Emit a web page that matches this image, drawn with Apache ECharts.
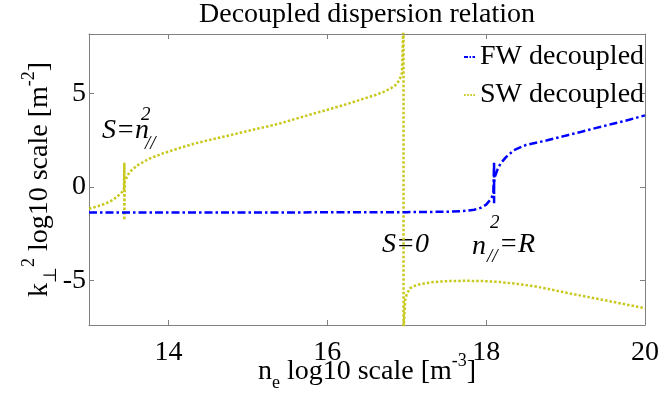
<!DOCTYPE html>
<html><head><meta charset="utf-8">
<script src="https://cdn.jsdelivr.net/npm/echarts@6/dist/echarts.min.js"></script>
<style>html,body{margin:0;padding:0;background:#fff}#c{width:659px;height:396px}</style>
</head><body><div id="c"></div>
<script>
// FW decoupled (blue dash-dot)
const fwX = [13.0, 13.5, 14.0, 15.0, 16.0, 17.0, 17.5, 17.71, 17.85, 17.93, 18.0, 18.05, 18.09, 18.1, 18.1, 18.1, 18.11, 18.14, 18.18, 18.25, 18.35, 18.5, 18.77, 19.0, 19.19, 19.4, 19.61, 19.8, 20.0];
const fwY = [-1.37, -1.37, -1.37, -1.37, -1.36, -1.35, -1.33, -1.29, -1.22, -1.12, -0.95, -0.7, -0.4, 1.34, -0.87, 0.2, 0.54, 0.9, 1.25, 1.6, 1.97, 2.25, 2.5, 2.75, 2.95, 3.18, 3.4, 3.6, 3.84];
// SW decoupled (yellow dotted)
const swX = [13.0, 13.1, 13.21, 13.3, 13.36, 13.41, 13.44, 13.445, 13.445, 13.45, 13.51, 13.61, 13.75, 13.93, 14.15, 14.35, 14.6, 14.8, 15.0, 15.2, 15.4, 15.6, 15.8, 16.03, 16.25, 16.45, 16.6, 16.71, 16.8, 16.87, 16.91, 16.94, 16.96, 16.96, 16.965, 16.98, 17.0, 17.04, 17.1, 17.17, 17.33, 17.5, 17.76, 18.0, 18.18, 18.4, 18.6, 18.8, 19.02, 19.2, 19.44, 19.7, 20.0];
const swY = [-1.16, -1.05, -0.89, -0.7, -0.5, -0.3, -0.15, 1.3, -1.78, 0.3, 0.8, 1.16, 1.5, 1.8, 2.1, 2.35, 2.6, 2.8, 3.0, 3.2, 3.4, 3.65, 3.9, 4.17, 4.45, 4.72, 4.92, 5.1, 5.28, 5.5, 5.75, 6.1, 9.0, -9.0, -7.3, -6.07, -5.75, -5.44, -5.3, -5.21, -5.1, -5.05, -5.03, -5.05, -5.1, -5.2, -5.32, -5.48, -5.68, -5.83, -6.03, -6.25, -6.5];
const xTicks = [14, 16, 18, 20];
const yTicks = [-5, 0, 5];
const seriesNames = ['FW decoupled', 'SW decoupled'];
const titleText = 'Decoupled dispersion relation';

const F = 'Liberation Serif';
const rich = {
  n: {fontFamily: F, fontSize: 28, lineHeight: 40, color: '#000'},
  sup: {fontFamily: F, fontSize: 18, lineHeight: 18, verticalAlign: 'top', color: '#000'},
  sub: {fontFamily: F, fontSize: 18, lineHeight: 18, verticalAlign: 'bottom', color: '#000'}
};
const zip = (a, b) => a.map((v, i) => [v, b[i]]);
const axisLine = {show: true, onZero: false, lineStyle: {color: '#808080', width: 1}};
const tickBase = {show: true, inside: true, length: 5, lineStyle: {color: '#808080', width: 1}};
const BLUE = '#0000ff', YEL = '#c8c81e';

const chart = echarts.init(document.getElementById('c'), null, {renderer: 'canvas'});
chart.setOption({
  animation: false,
  backgroundColor: '#fff',
  title: {text: titleText, left: 367, top: 1, textAlign: 'center', padding: 0,
    textStyle: {fontFamily: F, fontSize: 28, fontWeight: 'normal', color: '#000'}},
  legend: {
    data: [
      {name: seriesNames[0], icon: 'path://M0,0h4v2h-4zM5.5,0h1.5v2h-1.5zM8.5,0h2.5v2h-2.5z', itemStyle: {color: BLUE}},
      {name: seriesNames[1], icon: 'path://M0,0h1.5v2h-1.5zM3,0h1.5v2h-1.5zM6,0h1.5v2h-1.5zM9,0h1.5v2h-1.5z', itemStyle: {color: YEL}}
    ],
    orient: 'vertical', left: 464, top: 42, padding: 0, itemGap: 8,
    itemWidth: 11, itemHeight: 2.5,
    textStyle: {fontFamily: F, fontSize: 28, color: '#000', lineHeight: 30}
  },
  grid: {left: 89, right: 14, top: 34, bottom: 71, containLabel: false, outerBoundsMode: 'none'},
  xAxis: [{
    type: 'value', min: 13, max: 20, position: 'bottom',
    axisLine, splitLine: {show: false},
    axisTick: Object.assign({customValues: xTicks}, tickBase),
    axisLabel: {customValues: xTicks, margin: 14, fontFamily: F, fontSize: 28, color: '#000'},
    name: '{n|n}{sub|e}{n| log10 scale [m}{sup|-3}{n|]}',
    nameLocation: 'middle', nameGap: 27, nameMoveOverlap: false,
    nameTextStyle: {rich}
  }, {
    type: 'value', min: 13, max: 20, position: 'top',
    axisLine, splitLine: {show: false},
    axisTick: Object.assign({customValues: xTicks}, tickBase),
    axisLabel: {show: false}
  }],
  yAxis: [{
    type: 'value', min: -7.4, max: 8.2, position: 'left',
    axisLine, splitLine: {show: false},
    axisTick: Object.assign({customValues: yTicks}, tickBase),
    axisLabel: {customValues: yTicks, margin: 3, fontFamily: F, fontSize: 28, color: '#000'},
    name: '{n|k}{sub|⊥}{sup|2}{n| log10 scale [m}{sup|-2}{n|]}',
    nameLocation: 'middle', nameGap: 29, nameRotate: 90, nameMoveOverlap: false,
    nameTextStyle: {rich}
  }, {
    type: 'value', min: -7.4, max: 8.2, position: 'right',
    axisLine, splitLine: {show: false},
    axisTick: Object.assign({customValues: yTicks}, tickBase),
    axisLabel: {show: false}
  }],
  series: [{
    name: seriesNames[0], type: 'line', data: zip(fwX, fwY), showSymbol: false, symbol: 'none',
    lineStyle: {color: BLUE, width: 2.5, type: [8, 3, 2.5, 3]}, itemStyle: {color: BLUE}, z: 3
  }, {
    name: seriesNames[1], type: 'line', data: zip(swX, swY), showSymbol: false, symbol: 'none',
    lineStyle: {color: YEL, width: 2.5, type: [2.5, 2]}, itemStyle: {color: YEL}, z: 2
  }],
  graphic: [
    {type: 'text', left: 102, top: 117, style: {text: 'S=n', font: 'italic 28px "Liberation Serif"', fill: '#000'}},
    {type: 'text', left: 141, top: 105, style: {text: '2', font: 'italic 19px "Liberation Serif"', fill: '#000'}},
    {type: 'text', left: 145, top: 134, style: {text: '//', font: 'italic 19px "Liberation Serif"', fill: '#000'}},
    {type: 'text', left: 382, top: 231, style: {text: 'S=0', font: 'italic 28px "Liberation Serif"', fill: '#000'}},
    {type: 'text', left: 472, top: 233, style: {text: 'n', font: 'italic 28px "Liberation Serif"', fill: '#000'}},
    {type: 'text', left: 490, top: 213, style: {text: '2', font: 'italic 19px "Liberation Serif"', fill: '#000'}},
    {type: 'text', left: 487, top: 247, style: {text: '//', font: 'italic 19px "Liberation Serif"', fill: '#000'}},
    {type: 'text', left: 499, top: 231, style: {text: '=R', font: 'italic 28px "Liberation Serif"', fill: '#000'}}
  ]
});
</script>
</body></html>
